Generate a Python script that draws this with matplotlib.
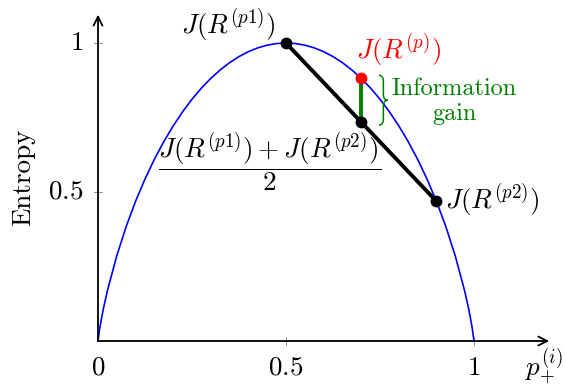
import numpy as np
import matplotlib
matplotlib.use("Agg")
import matplotlib.pyplot as plt
from matplotlib.path import Path
from matplotlib.patches import PathPatch

plt.rcParams['mathtext.fontset'] = 'cm'
plt.rcParams['font.family'] = 'serif'
plt.rcParams['font.serif'] = ['cmr10']
plt.rcParams['axes.formatter.use_mathtext'] = True

# entropy curve, sampled (left half; right half mirrors it)
p_half = [0, 0.005, 0.01, 0.015, 0.025, 0.05, 0.075, 0.1, 0.125, 0.15, 0.175, 0.2,
          0.225, 0.25, 0.275, 0.3, 0.325, 0.35, 0.375, 0.4, 0.425, 0.45, 0.475, 0.5]
entropy_half = [0, 0.0454, 0.0808, 0.1124, 0.1687, 0.2864, 0.3843, 0.4690, 0.5436,
                0.6098, 0.6690, 0.7219, 0.7692, 0.8113, 0.8485, 0.8813, 0.9097,
                0.9341, 0.9544, 0.9710, 0.9837, 0.9928, 0.9982, 1.0]
p_vals = p_half + [1 - p for p in reversed(p_half[:-1])]
entropy_vals = entropy_half + list(reversed(entropy_half[:-1]))

# split points
p1 = (0.5, 1.0)
p2 = (0.9, 0.4690)
p_parent = (0.7, 0.8813)
p_mid = (0.7, (p1[1] + p2[1]) / 2)

xticks = [0.5, 1]
xtick_labels = ['$0.5$', '$1$']
yticks = [0.5, 1]
ytick_labels = ['$0.5$', '$1$']

fig = plt.figure(figsize=(5.65, 3.88), dpi=100)
ax = fig.add_axes([0, 0, 1, 1])
ax.set_xlim(-98 / 376, (565 - 98) / 376)
ax.set_ylim(-47 / 298, (388 - 47) / 298)
ax.axis('off')

fs = 19.5

# axes with arrows
ax.annotate('', xy=(1.2, 0), xytext=(0, 0),
            arrowprops=dict(arrowstyle='->', lw=1.3, color='black',
                            mutation_scale=16, shrinkA=0, shrinkB=0))
ax.annotate('', xy=(0, 1.095), xytext=(0, 0),
            arrowprops=dict(arrowstyle='->', lw=1.3, color='black',
                            mutation_scale=16, shrinkA=0, shrinkB=0))

# ticks
for xt, lab in zip(xticks, xtick_labels):
    ax.plot([xt, xt], [-0.012, 0.012], color='gray', lw=0.6, zorder=1)
    ax.text(xt, -0.09, lab, ha='center', va='center', fontsize=fs)
ax.text(0, -0.09, '$0$', ha='center', va='center', fontsize=fs)
for yt, lab in zip(yticks, ytick_labels):
    ax.plot([-0.01, 0.01], [yt, yt], color='gray', lw=0.6, zorder=1)
    ax.text(-0.04, yt, lab, ha='right', va='center', fontsize=fs)

ax.text(-0.20, 0.55, 'Entropy', rotation=90, ha='center', va='center', fontsize=fs)
ax.text(1.187, -0.088, r'$p_{+}^{(i)}$', ha='center', va='center', fontsize=fs)

# entropy curve
ax.plot(p_vals, entropy_vals, color='blue', lw=1.2, zorder=2)

# chord between the two children
ax.plot([p1[0], p2[0]], [p1[1], p2[1]], color='black', lw=2.8, zorder=3,
        solid_capstyle='round')
# information gain
ax.plot([p_mid[0], p_parent[0]], [p_mid[1], p_parent[1]], color='green', lw=2.8, zorder=3)

for pt in (p1, p2, p_mid):
    ax.plot(*pt, 'o', color='black', ms=7.5, zorder=4)
ax.plot(*p_parent, 'o', color='red', ms=7.5, zorder=4)

# brace next to the gain segment
def draw_brace(x, y0, y1, w_px, color):
    to_disp = ax.transData
    x_d, y0_d = to_disp.transform((x, y0))
    _, y1_d = to_disp.transform((x, y1))
    H = y1_d - y0_d
    q = min(6.0, H / 4)
    m = y0_d + H / 2
    pts = [(x_d, y1_d), (x_d + w_px / 2, y1_d), (x_d + w_px / 2, y1_d - q),
           (x_d + w_px / 2, m + q),
           (x_d + w_px / 2, m), (x_d + w_px, m),
           (x_d + w_px / 2, m), (x_d + w_px / 2, m - q),
           (x_d + w_px / 2, y0_d + q),
           (x_d + w_px / 2, y0_d), (x_d, y0_d)]
    codes = [Path.MOVETO, Path.CURVE3, Path.CURVE3, Path.LINETO,
             Path.CURVE3, Path.CURVE3, Path.CURVE3, Path.CURVE3,
             Path.LINETO, Path.CURVE3, Path.CURVE3]
    data_pts = ax.transData.inverted().transform(pts)
    ax.add_patch(PathPatch(Path(data_pts, codes), fill=False, edgecolor=color,
                           lw=1.1, zorder=3))

draw_brace(0.747, p_mid[1] - 0.01, p_parent[1] + 0.01, 9, 'green')

# labels
ax.text(0.473, 1.06, r'$J(R^{(p1)})$', ha='right', va='center', fontsize=fs)
ax.text(0.80, 0.977, r'$J(R^{(p)})$', ha='center', va='center', fontsize=fs, color='red')
ax.text(0.947, 0.803, 'Information\ngain', ha='center', va='center', fontsize=17.5,
        color='green', linespacing=1.15)
ax.text(0.457, 0.60, r'$\dfrac{J(R^{(p1)})+J(R^{(p2)})}{2}$', ha='center', va='center',
        fontsize=fs)
ax.text(0.923, 0.473, r'$J(R^{(p2)})$', ha='left', va='center', fontsize=fs)

fig.savefig('out.png', dpi=100)
